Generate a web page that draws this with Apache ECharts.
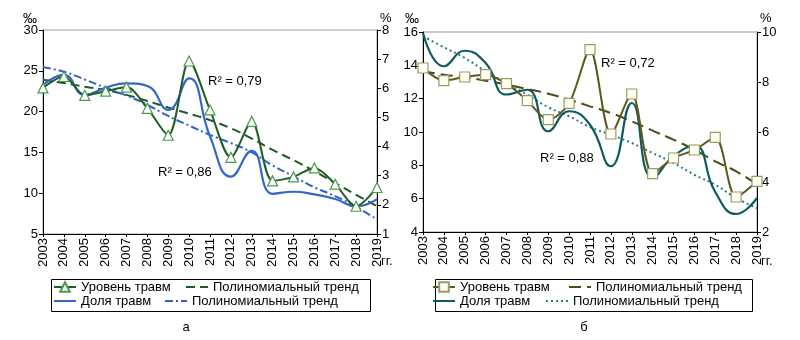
<!DOCTYPE html>
<html>
<head>
<meta charset="utf-8">
<script src="https://cdn.jsdelivr.net/npm/echarts@6/dist/echarts.min.js"></script>
<style>
  html, body { margin: 0; padding: 0; background: #fff; }
  .panel { position: absolute; top: 0; width: 400px; height: 340px; }
  #chartA { left: 0; }
  #chartB { left: 400px; }
</style>
</head>
<body>
<div id="chartA" class="panel"></div>
<div id="chartB" class="panel"></div>
<script>
// Years on the category axis
const years = ['2003','2004','2005','2006','2007','2008','2009','2010','2011',
               '2012','2013','2014','2015','2016','2017','2018','2019'];

// Panel "а": injury level (‰, left axis) and injury share (%, right axis)
const levelA      = [22.9, 24.3, 22.0, 22.5, 23.0, 20.4, 17.1, 26.2, 20.2, 14.4, 18.8, 11.5, 12.0, 13.1, 11.1, 8.4, 10.7];
const levelTrendA = [23.9, 23.5, 23.05, 22.65, 22.05, 21.3, 20.5, 19.75, 18.95, 17.95, 16.7, 15.3, 14.05, 12.7, 11.25, 9.8, 8.4];
const shareA      = [6.11, 6.46, 5.77, 6.02, 6.17, 6.08, 5.26, 6.34, 4.35, 2.97, 3.85, 2.38, 2.45, 2.36, 2.2, 1.95, 2.2];
const shareTrendA = [6.72, 6.57, 6.3, 6.02, 5.75, 5.43, 5.05, 4.72, 4.4, 4.12, 3.8, 3.35, 2.98, 2.6, 2.3, 1.93, 1.5];
const r2A = ['R² = 0,79', 'R² = 0,86'];

// Panel "б"
const levelB      = [13.84, 13.08, 13.3, 13.44, 12.9, 11.88, 10.74, 11.72, 14.94, 9.88, 12.28, 7.5, 8.44, 8.92, 9.68, 6.1, 7.04];
const levelTrendB = [13.64, 13.44, 13.28, 13.08, 12.84, 12.58, 12.3, 11.94, 11.54, 11.14, 10.64, 10.08, 9.54, 8.94, 8.24, 7.64, 6.84];
const shareB      = [9.96, 8.63, 9.25, 8.76, 7.5, 7.69, 6.03, 6.83, 6.29, 4.63, 7.16, 4.16, 5.03, 5.45, 3.6, 2.72, 3.36];
const shareTrendB = [9.83, 9.39, 8.96, 8.43, 7.96, 7.49, 6.99, 6.63, 6.2, 5.89, 5.56, 5.16, 4.76, 4.29, 3.89, 3.36, 2.95];
const r2B = ['R² = 0,72', 'R² = 0,88'];

// Legend / series names (trailing space keeps the two trend entries distinct)
const NAME_LEVEL = 'Уровень травм';
const NAME_SHARE = 'Доля травм';
const NAME_TREND1 = 'Полиномиальный тренд';
const NAME_TREND2 = 'Полиномиальный тренд ';

const FONT = 'Liberation Sans, Arial, sans-serif';
const txt = { fontFamily: FONT, fontSize: 13, color: '#000' };

function valueAxis(pos, min, max, step) {
  return {
    type: 'value', position: pos, min: min, max: max, interval: step,
    axisLine: { show: true, lineStyle: { color: '#000', width: 1 } },
    axisTick: { show: true, length: 4, lineStyle: { color: '#000' } },
    axisLabel: Object.assign({ margin: 5 }, txt),
    splitLine: { show: false }
  };
}

// One legend entry; lines without markers get a bare line icon
function legendItem(name, left, top, marker) {
  const item = {
    data: [name], left: left, top: top, padding: 0, itemGap: 0,
    itemWidth: 22, itemHeight: 12, selectedMode: false,
    textStyle: Object.assign({ lineHeight: 14 }, txt)
  };
  if (!marker) item.itemStyle = { opacity: 0 };
  return item;
}

function buildOption(cfg) {
  return {
    animation: false,
    backgroundColor: '#fff',
    grid: { left: cfg.grid[0], right: cfg.grid[1], top: cfg.grid[2], bottom: cfg.grid[3],
            show: true, borderColor: '#9a9a9a', borderWidth: 1 },
    xAxis: {
      type: 'category', data: years, boundaryGap: false,
      axisLine: { lineStyle: { color: '#000', width: 1 } },
      axisTick: { show: true, length: 3, interval: 0, lineStyle: { color: '#000' } },
      axisLabel: Object.assign({ rotate: 90, interval: 0, margin: 4 }, txt),
      splitLine: { show: false }
    },
    yAxis: [
      valueAxis('left', cfg.left[0], cfg.left[1], cfg.left[2]),
      valueAxis('right', cfg.right[0], cfg.right[1], cfg.right[2])
    ],
    legend: [
      legendItem(NAME_LEVEL, cfg.leg[0], 280, true),
      legendItem(NAME_TREND1, cfg.leg[1], 280, false),
      legendItem(NAME_SHARE, cfg.leg[0], 294, false),
      legendItem(NAME_TREND2, cfg.leg[2], 294, false)
    ],
    series: [
      { name: NAME_TREND1, type: 'line', yAxisIndex: 0, data: cfg.levelTrend,
        symbol: 'none', smooth: true, z: 2,
        lineStyle: { color: cfg.c.levelTrend, width: 2, type: cfg.dash1 },
        itemStyle: { color: cfg.c.levelTrend } },
      { name: NAME_TREND2, type: 'line', yAxisIndex: 1, data: cfg.shareTrend,
        symbol: 'none', smooth: true, z: 2,
        lineStyle: { color: cfg.c.shareTrend, width: 2, type: cfg.dash2 },
        itemStyle: { color: cfg.c.shareTrend } },
      { name: NAME_SHARE, type: 'line', yAxisIndex: 1, data: cfg.share,
        symbol: 'none', smooth: 0.5, z: 3,
        lineStyle: { color: cfg.c.share, width: 2.2 },
        itemStyle: { color: cfg.c.share } },
      { name: NAME_LEVEL, type: 'line', yAxisIndex: 0, data: cfg.level,
        symbol: cfg.symbol, symbolSize: cfg.symbolSize, smooth: 0.3, z: 4,
        lineStyle: { color: cfg.c.level, width: 2 },
        itemStyle: { color: cfg.c.markerFill, borderColor: cfg.c.markerBorder, borderWidth: 1.2 } }
    ],
    graphic: [
      { type: 'rect', left: cfg.box[0], top: 277, shape: { width: cfg.box[1], height: 32 },
        style: { fill: 'none', stroke: '#000', lineWidth: 1 }, silent: true },
      { type: 'text', left: cfg.unitL, top: 12, style: { text: '‰', fill: '#000', font: '14px ' + FONT } },
      { type: 'text', left: cfg.unitR, top: 12, style: { text: '%', fill: '#000', font: '13px ' + FONT } },
      { type: 'text', left: cfg.unitR + 1, top: 255, style: { text: 'гг.', fill: '#000', font: '13px ' + FONT } },
      { type: 'text', left: cfg.r2[0][0], top: cfg.r2[0][1], style: { text: cfg.r2text[0], fill: '#000', font: '13px ' + FONT } },
      { type: 'text', left: cfg.r2[1][0], top: cfg.r2[1][1], style: { text: cfg.r2text[1], fill: '#000', font: '13px ' + FONT } },
      { type: 'text', x: cfg.sub[0], y: 327, style: { text: cfg.sub[1], fill: '#000', font: '13px ' + FONT,
        align: 'center', verticalAlign: 'middle' } }
    ]
  };
}

const chartA = echarts.init(document.getElementById('chartA'), null, { renderer: 'canvas' });
chartA.setOption(buildOption({
  grid: [43, 23, 30, 106],
  left: [5, 30, 5], right: [1, 8, 1],
  level: levelA, levelTrend: levelTrendA, share: shareA, shareTrend: shareTrendA,
  symbol: 'triangle', symbolSize: 10,
  dash1: [9, 5], dash2: [8, 3, 2, 3],
  c: { level: '#1f5f24', levelTrend: '#1d5a26', share: '#3566c8', shareTrend: '#3262c4',
       markerFill: '#ffffff', markerBorder: '#4a9a4e' },
  leg: [53, 185, 164], box: [49, 319],
  unitL: 23, unitR: 380,
  r2: [[208, 75], [158, 166]], r2text: r2A,
  sub: [186, 'а']
}));

const chartB = echarts.init(document.getElementById('chartB'), null, { renderer: 'canvas' });
chartB.setOption(buildOption({
  grid: [23, 43, 32, 108],
  left: [4, 16, 2], right: [2, 10, 2],
  level: levelB, levelTrend: levelTrendB, share: shareB, shareTrend: shareTrendB,
  symbol: 'rect', symbolSize: 10,
  dash1: [12, 6], dash2: [2, 3],
  c: { level: '#5a5a1e', levelTrend: '#4d4d1a', share: '#0f5a60', shareTrend: '#2a7a80',
       markerFill: '#fffff2', markerBorder: '#9a9a68' },
  leg: [32, 168, 145], box: [33, 317],
  unitL: 5, unitR: 360,
  r2: [[201, 57], [140, 152]], r2text: r2B,
  sub: [184, 'б']
}));
</script>
</body>
</html>
